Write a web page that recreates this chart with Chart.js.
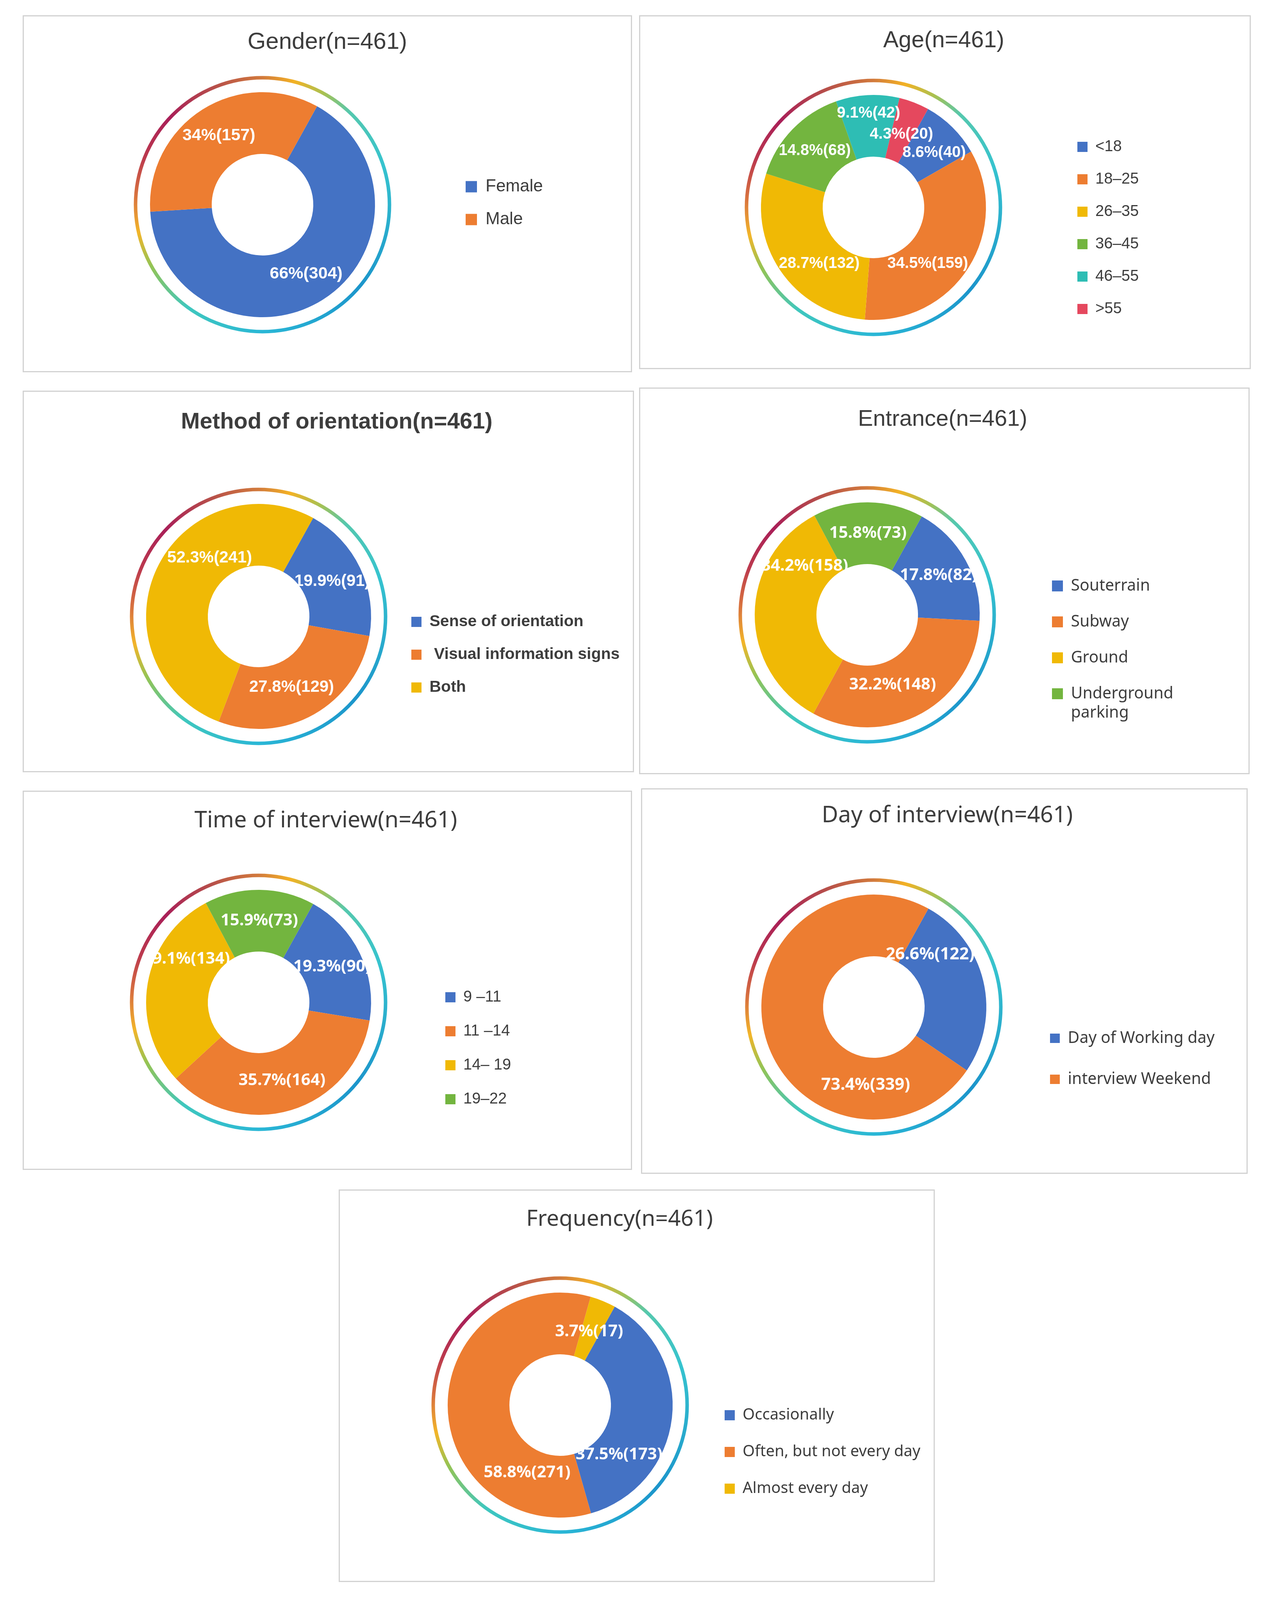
<!DOCTYPE html>
<html>
<head>
<meta charset="utf-8">
<title>Survey respondents (n=461)</title>
<script src="https://cdn.jsdelivr.net/npm/chart.js@4.4.1/dist/chart.umd.min.js"></script>
<style>
  html, body { margin: 0; padding: 0; background: #ffffff; }
  #page { position: relative; width: 3246px; height: 4097px; overflow: hidden; }
  #page canvas { position: absolute; }
  .frame { position: absolute; box-sizing: border-box; border: 3px solid #d2d2d2; }
</style>
</head>
<body>
<div id="page"></div>
<script>
// ---- data (n = 461 for every panel) ----
const genderLabels = ['Female', 'Male'];
const genderCounts = [304, 157];
const genderPercents = [66, 34];

const ageLabels = ['<18', '18–25', '26–35', '36–45', '46–55', '>55'];
const ageCounts = [40, 159, 132, 68, 42, 20];
const agePercents = [8.6, 34.5, 28.7, 14.8, 9.1, 4.3];

const methodLabels = ['Sense of orientation', ' Visual information signs', 'Both'];
const methodCounts = [91, 129, 241];
const methodPercents = [19.9, 27.8, 52.3];

const entranceLabels = ['Souterrain', 'Subway', 'Ground', ['Underground', 'parking']];
const entranceCounts = [82, 148, 158, 73];
const entrancePercents = [17.8, 32.2, 34.2, 15.8];

const timeLabels = ['9 –11', '11 –14', '14– 19', '19–22'];
const timeCounts = [90, 164, 134, 73];
const timePercents = [19.3, 35.7, 29.1, 15.9];

const dayLabels = ['Day of Working day', 'interview Weekend'];
const dayCounts = [122, 339];
const dayPercents = [26.6, 73.4];

const frequencyLabels = ['Occasionally', 'Often, but not every day', 'Almost every day'];
const frequencyCounts = [173, 271, 17];
const frequencyPercents = [37.5, 58.8, 3.7];

// ---- style ----
const BLUE = '#4472C4', ORANGE = '#ED7D31', YELLOW = '#F0B905', GREEN = '#73B53F', TEAL = '#2EBDB4', RED = '#E5485E';
const ARIAL = '"Liberation Sans", Arial, sans-serif';
const YAHEI = '"Noto Sans", "Open Sans", sans-serif';
const TEXT = '#3d3d3d';
const PIE_R = 288;          // outer radius of the slices
const HOLE_R = 130;         // radius of the hole
const RING_GAP = 37;        // slices edge -> centre line of the decorative ring
const RING_W = 9;

// rainbow ring around each doughnut, 0 = 12 o'clock, clockwise
const ringStops = [
  [0.00, '#D27A3C'], [0.04, '#F3B225'], [0.08, '#A8C152'], [0.12, '#55C8AE'],
  [0.20, '#36C3CF'], [0.36, '#1C95CB'], [0.50, '#2AB7D6'], [0.60, '#3FC7BE'],
  [0.67, '#94C455'], [0.715, '#F2B52A'], [0.76, '#D9743E'], [0.81, '#BC3A4E'],
  [0.87, '#A91F58'], [0.94, '#B7504A'], [1.00, '#D27A3C']
];

// where each panel sits on the page (absolute px); labelAt = where a value label
// sits inside its slice (degrees from 12 o'clock, optional radius), null = slice middle
const panels = [
  { box: [58, 39, 1560, 914], center: [672, 524],
    title: { text: 'Gender(n=461)', x: 838, y: 108, size: 60, weight: 'normal', family: ARIAL },
    legend: { x: 1192, y: 478, size: 44, weight: 'normal', family: ARIAL, pad: 40, boxW: 29, boxH: 29 },
    values: { size: 43, weight: 'bold', family: ARIAL, at: [null, null] },
    labels: genderLabels, counts: genderCounts, percents: genderPercents, colors: [BLUE, ORANGE] },
  { box: [1636, 39, 1566, 906], center: [2236, 531],
    title: { text: 'Age(n=461)', x: 2416, y: 105, size: 59, weight: 'normal', family: ARIAL },
    legend: { x: 2758, y: 376, size: 40, weight: 'normal', family: ARIAL, pad: 43, boxW: 26, boxH: 26 },
    values: { size: 40, weight: 'bold', family: ARIAL,
      at: [{ a: 48 }, { a: 136, r: 200 }, { a: 224, r: 200 }, null, { a: 357, r: 241 }, { a: 21, r: 200 }] },
    labels: ageLabels, counts: ageCounts, percents: agePercents, colors: [BLUE, ORANGE, YELLOW, GREEN, TEAL, RED] },
  { box: [58, 1000, 1565, 977], center: [662, 1578],
    title: { text: 'Method of orientation(n=461)', x: 862, y: 1081, size: 58, weight: 'bold', family: ARIAL },
    legend: { x: 1053, y: 1592, size: 41, weight: 'bold', family: ARIAL, pad: 43, boxW: 26, boxH: 26 },
    values: { size: 42, weight: 'bold', family: ARIAL, at: [null, { a: 155, r: 200 }, { a: 320, r: 195 }] },
    labels: methodLabels, counts: methodCounts, percents: methodPercents, colors: [BLUE, ORANGE, YELLOW] },
  { box: [1636, 992, 1563, 990], center: [2220, 1574],
    title: { text: 'Entrance(n=461)', x: 2413, y: 1074, size: 58, weight: 'normal', family: ARIAL },
    legend: { x: 2693, y: 1500, size: 41, weight: 'normal', family: YAHEI, pad: 51, boxW: 28, boxH: 28 },
    values: { size: 42, weight: 'bold', family: YAHEI, at: [null, { a: 160, r: 190 }, { a: 308, r: 203 }, null] },
    labels: entranceLabels, counts: entranceCounts, percents: entrancePercents, colors: [BLUE, ORANGE, YELLOW, GREEN] },
  { box: [58, 2024, 1560, 971], center: [662, 2566],
    title: { text: 'Time of interview(n=461)', x: 834, y: 2101, size: 58, weight: 'normal', family: YAHEI },
    legend: { x: 1140, y: 2553, size: 40, weight: 'normal', family: ARIAL, pad: 47, boxW: 26, boxH: 26 },
    values: { size: 42, weight: 'bold', family: YAHEI, at: [null, null, { a: 301, r: 215 }, null] },
    labels: timeLabels, counts: timeCounts, percents: timePercents, colors: [BLUE, ORANGE, YELLOW, GREEN] },
  { box: [1641, 2018, 1553, 987], center: [2237, 2578],
    title: { text: 'Day of interview(n=461)', x: 2425, y: 2088, size: 58, weight: 'normal', family: YAHEI },
    legend: { x: 2688, y: 2658, size: 41, weight: 'normal', family: YAHEI, pad: 64, boxW: 25, boxH: 24 },
    values: { size: 43, weight: 'bold', family: YAHEI, at: [{ a: 47, r: 197 }, { a: 186, r: 201 }] },
    labels: dayLabels, counts: dayCounts, percents: dayPercents, colors: [BLUE, ORANGE] },
  { box: [867, 3045, 1526, 1005], center: [1434, 3597],
    title: { text: 'Frequency(n=461)', x: 1586, y: 3122, size: 57, weight: 'normal', family: YAHEI },
    legend: { x: 1855, y: 3623, size: 40, weight: 'normal', family: YAHEI, pad: 54, boxW: 26, boxH: 26 },
    values: { size: 42, weight: 'bold', family: YAHEI, at: [{ a: 130, r: 197 }, { a: 206, r: 193 }, { a: 21.5, r: 202 }] },
    labels: frequencyLabels, counts: frequencyCounts, percents: frequencyPercents, colors: [BLUE, ORANGE, YELLOW] }
];

// gradient ring drawn around the slices
const ringPlugin = {
  id: 'ring',
  afterDatasetsDraw(chart) {
    const arc = chart.getDatasetMeta(0).data[0];
    if (!arc) return;
    const { x, y, outerRadius } = arc.getProps(['x', 'y', 'outerRadius'], true);
    const ctx = chart.ctx;
    const grad = ctx.createConicGradient(-Math.PI / 2, x, y);
    ringStops.forEach(([o, c]) => grad.addColorStop(o, c));
    ctx.save();
    ctx.beginPath();
    ctx.arc(x, y, outerRadius + RING_GAP, 0, Math.PI * 2);
    ctx.lineWidth = RING_W;
    ctx.strokeStyle = grad;
    ctx.stroke();
    ctx.restore();
  }
};

// "66%(304)" labels inside each slice
const sliceLabels = {
  id: 'sliceLabels',
  afterDatasetsDraw(chart, args, opts) {
    const ctx = chart.ctx;
    const ds = chart.data.datasets[0];
    chart.getDatasetMeta(0).data.forEach((arc, i) => {
      const p = arc.getProps(['x', 'y', 'startAngle', 'endAngle', 'innerRadius', 'outerRadius'], true);
      const at = (opts.at && opts.at[i]) || {};
      const ang = at.a !== undefined ? (at.a - 90) * Math.PI / 180 : (p.startAngle + p.endAngle) / 2;
      const r = at.r !== undefined ? at.r : (p.innerRadius + p.outerRadius) / 2;
      ctx.save();
      ctx.font = `${opts.weight} ${opts.size}px ${opts.family}`;
      ctx.fillStyle = '#ffffff';
      ctx.textAlign = 'center';
      ctx.textBaseline = 'middle';
      ctx.fillText(`${ds.percents[i]}%(${ds.data[i]})`, p.x + Math.cos(ang) * r, p.y + Math.sin(ang) * r);
      ctx.restore();
    });
  }
};

function addPanel(p) {
  const page = document.getElementById('page');
  const [bx, by, W, H] = p.box;
  const rcx = p.center[0] - bx, rcy = p.center[1] - by;

  // title: text centre at p.title.y, chart area centred on rcy
  const tlh = p.title.size * 1.2;
  const tTop = p.title.y - by - tlh / 2;
  let tBottom = 0;
  let padB = tTop + tlh + H - 2 * rcy;
  if (padB < 0) { tBottom = -padB; padB = 0; }

  // legend on the right, doughnut centred on rcx
  const lg = p.legend;
  const legendLeft = lg.x - bx - lg.pad;
  const padL = 2 * rcx - legendLeft;
  const legendW = W - legendLeft;
  const itemH = Math.max(lg.size, lg.boxH);
  const legendTop = (lg.y - by) - itemH / 2 - lg.pad;
  const titleX = p.title.x - bx;

  const canvas = document.createElement('canvas');
  canvas.width = W;
  canvas.height = H;
  canvas.style.left = bx + 'px';
  canvas.style.top = by + 'px';
  page.appendChild(canvas);

  const frame = document.createElement('div');
  frame.className = 'frame';
  frame.style.left = bx + 'px';
  frame.style.top = by + 'px';
  frame.style.width = W + 'px';
  frame.style.height = H + 'px';
  page.appendChild(frame);

  // legend box gets a fixed width, title is re-centred over the panel
  const placeBoxes = {
    id: 'placeBoxes',
    beforeInit(chart) {
      const fit = chart.legend.fit;
      chart.legend.fit = function () {
        fit.call(this);
        this.width = legendW;
      };
    },
    afterLayout(chart) {
      const t = chart.titleBlock;
      const w = t.right - t.left;
      t.left = titleX - w / 2;
      t.right = titleX + w / 2;
    }
  };

  return new Chart(canvas.getContext('2d'), {
    type: 'doughnut',
    data: {
      labels: p.labels,
      datasets: [{
        data: p.counts,
        percents: p.percents,
        backgroundColor: p.colors,
        borderWidth: 0
      }]
    },
    options: {
      responsive: false,
      devicePixelRatio: 1,
      animation: false,
      events: [],
      rotation: 29,
      radius: PIE_R,
      cutout: (HOLE_R / PIE_R * 100) + '%',
      layout: { padding: { left: padL, right: 0, top: 0, bottom: padB } },
      plugins: {
        tooltip: { enabled: false },
        title: {
          display: true,
          text: p.title.text,
          color: TEXT,
          font: { family: p.title.family, size: p.title.size, weight: p.title.weight },
          padding: { top: tTop, bottom: tBottom }
        },
        legend: {
          position: 'right',
          align: 'start',
          title: { display: true, text: '', font: { size: 1, lineHeight: 1 }, padding: { top: legendTop - 1, bottom: 0 } },
          labels: {
            color: TEXT,
            boxWidth: lg.boxW,
            boxHeight: lg.boxH,
            padding: lg.pad,
            font: { family: lg.family, size: lg.size, weight: lg.weight }
          }
        },
        sliceLabels: p.values
      }
    },
    plugins: [placeBoxes, ringPlugin, sliceLabels]
  });
}

panels.forEach(addPanel);
</script>
</body>
</html>
